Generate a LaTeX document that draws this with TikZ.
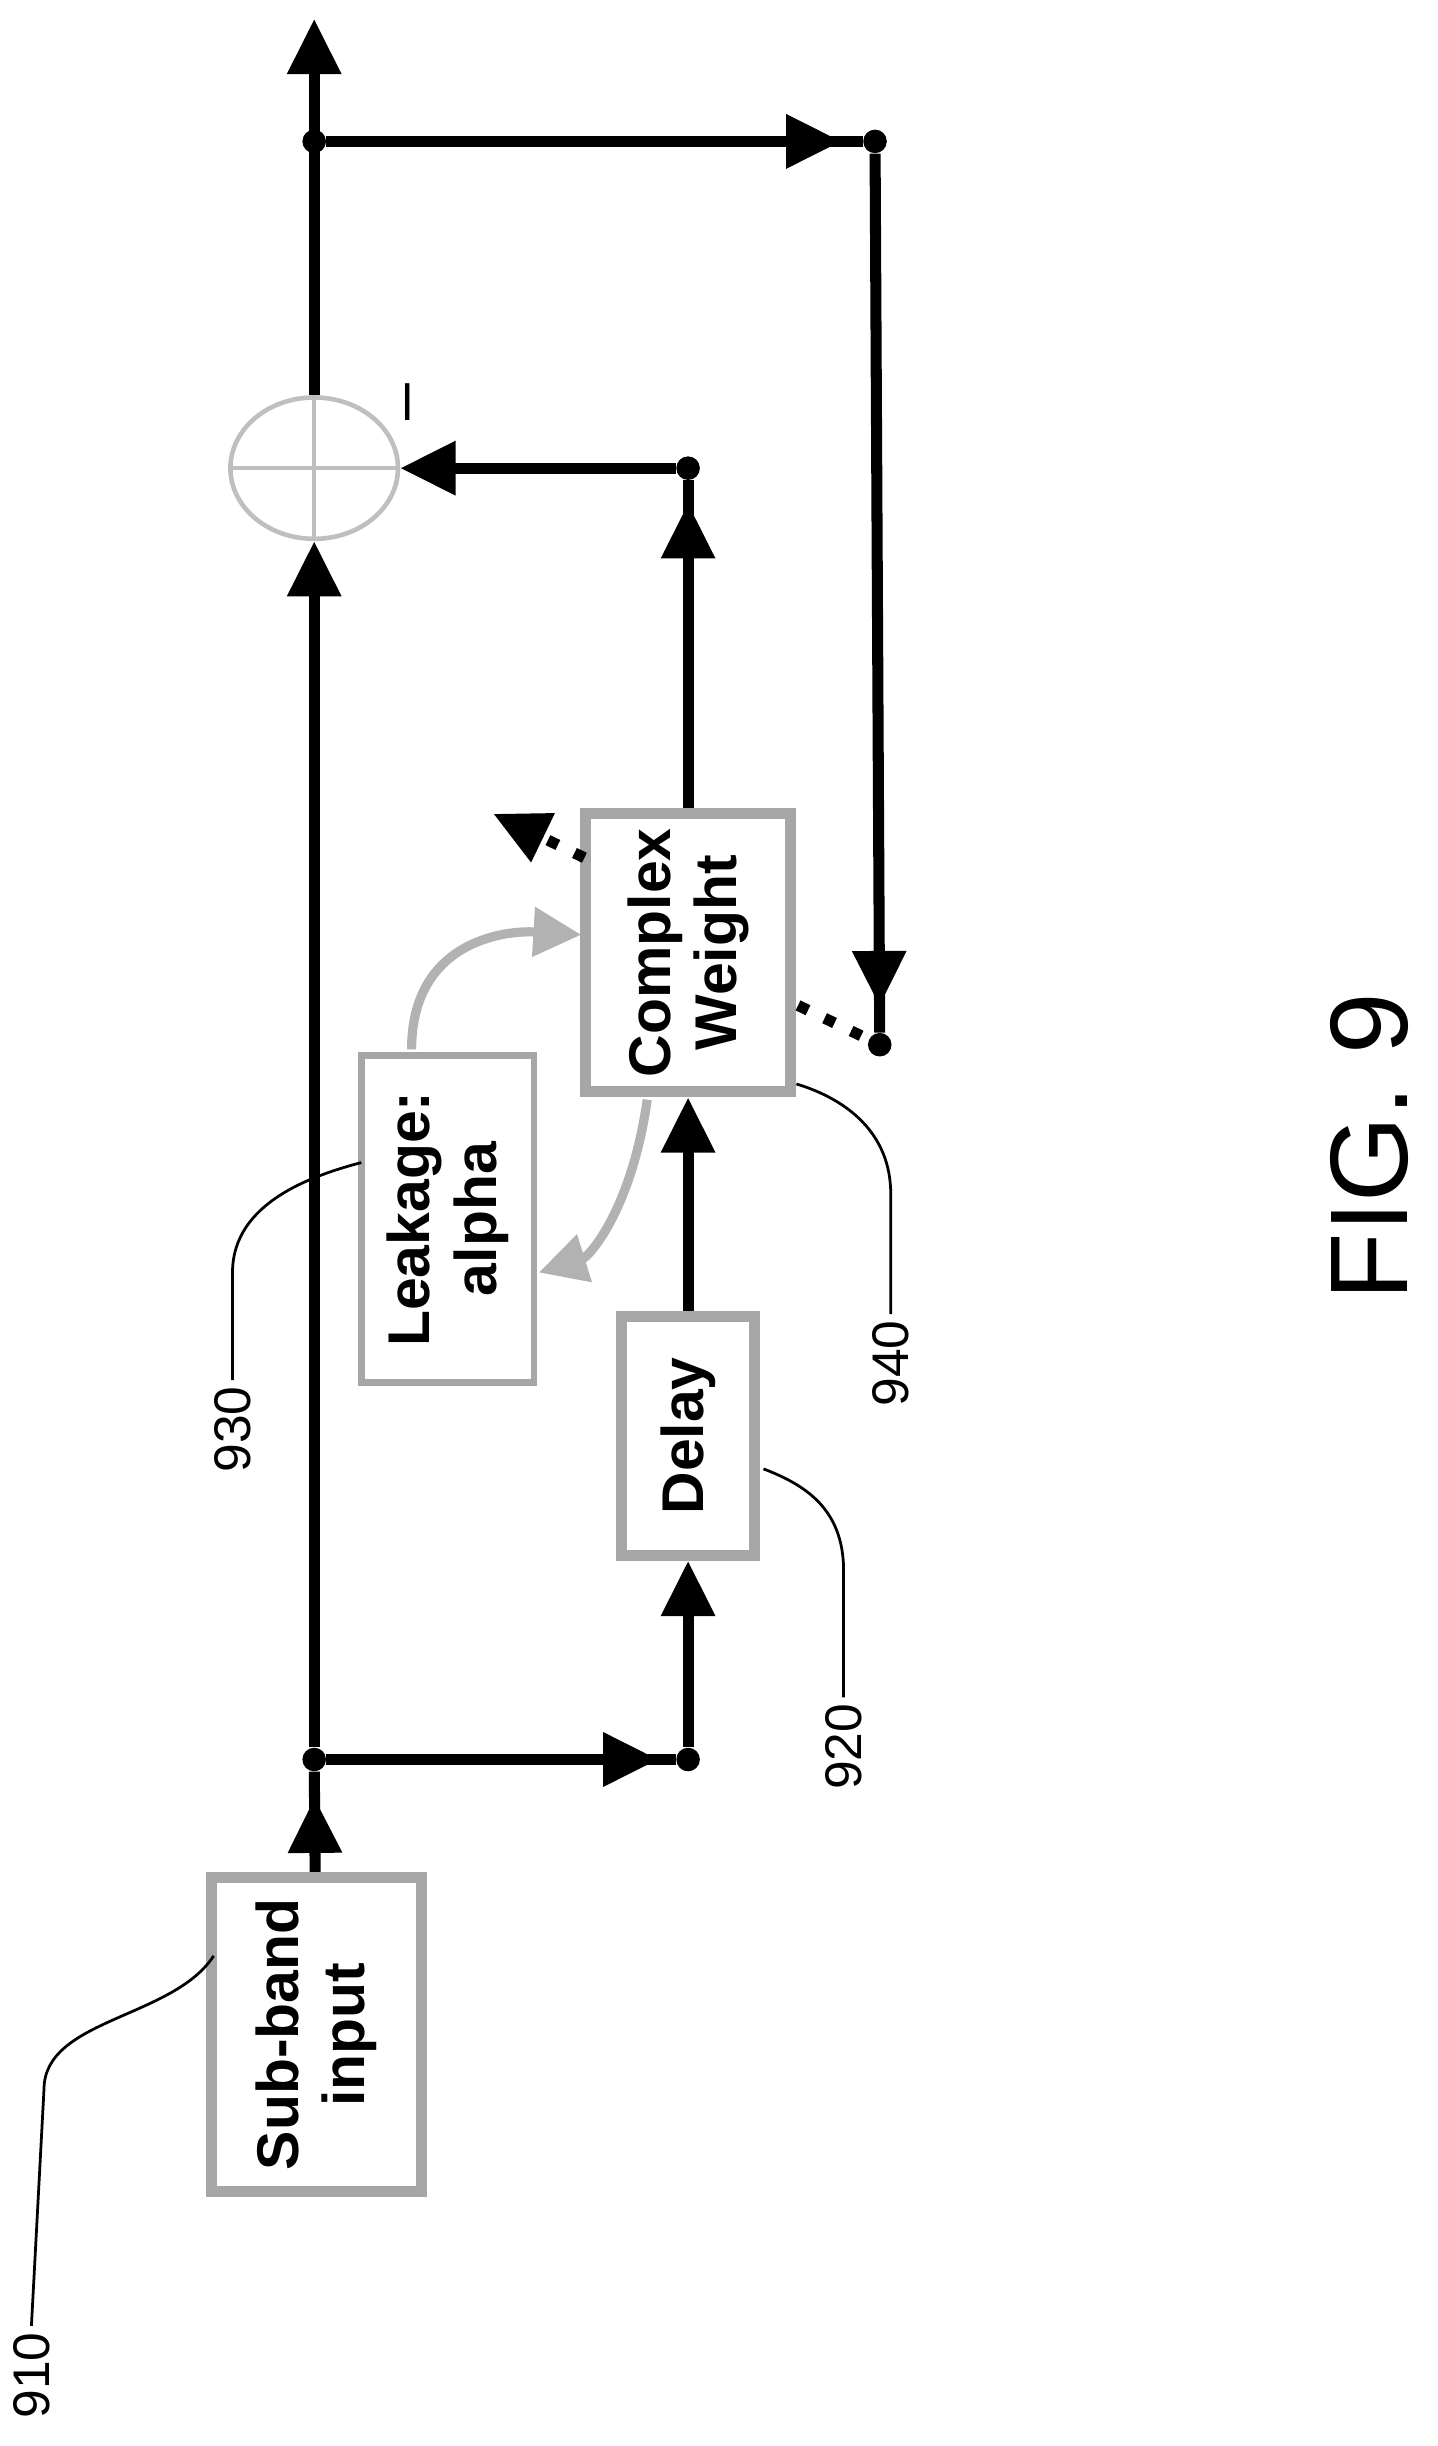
\documentclass[tikz,border=0pt]{standalone}
\usepackage{fontspec}
\setmainfont{Liberation Sans}
\usetikzlibrary{arrows.meta,shapes.geometric,decorations.markings}

\tikzset{
  blk/.style={draw=gray!70,line width=6pt,fill=white,rotate=90,align=center,
    font=\fontsize{32}{36}\selectfont\bfseries,inner sep=2pt},
  wire/.style={line width=6pt},
  tip/.style={-{Triangle[length=30pt,width=28pt]}},
  arr at/.style={postaction={decorate},decoration={markings,
    mark=at position #1 with {\arrow{Triangle[length=30pt,width=28pt]}}}},
  dot/.style={circle,fill=black,inner sep=0pt,minimum size=0.45cm},
  lbl/.style={rotate=90,font=\fontsize{28}{30}\selectfont},
  leader/.style={line width=1.5pt},
  soft/.style={draw=gray!60,line width=5pt,-{Triangle[length=26pt,width=26pt]}}
}

\begin{document}
\begin{tikzpicture}[x=0.03cm,y=-0.03cm]
  \useasboundingbox (0,0) rectangle (915,1557);
  % blocks
  \node[blk,minimum width=6cm,minimum height=4cm] (sub) at (201.5,1295) {Sub-band\\input};
  \node[blk,minimum width=4.56cm,minimum height=2.55cm] (delay) at (438,914) {Delay};
  \node[blk,minimum width=5.31cm,minimum height=3.9cm] (cw) at (438,606.5) {Complex\\Weight};
  \node[blk,line width=3.5pt,minimum width=6.24cm,minimum height=3.3cm] (leak) at (285,776) {Leakage:\\alpha};
  \node[draw=gray!50,line width=2.5pt,ellipse,minimum width=3.2cm,minimum height=2.7cm] (sum) at (200,298) {};
  \draw[gray!50,line width=2.5pt] (sum.north) -- (sum.south) (sum.west) -- (sum.east);
  \node[rotate=90,font=\fontsize{36}{36}\selectfont] (minus) at (264,256) {--};
  % junctions
  \node[dot] (jlow) at (200,1120) {};
  \node[dot] (jd) at (438,1120) {};
  \node[dot] (jc) at (438,298) {};
  \node[dot] (jtop) at (200,90) {};
  \node[dot] (jright) at (557,90) {};
  \node[dot] (jw) at (560,665) {};
  \coordinate (top) at (200,12);
  \coordinate (cwa) at (372,546);
  \coordinate (cwo) at (314,518);
  \coordinate (cwb) at (508,640);
  % signal path
  \draw[wire,arr at=0.74] (sub) -- (jlow);
  \draw[wire,arr at=0.95] (jlow) -- (jd);
  \draw[wire,tip] (jd) -- (delay);
  \draw[wire,tip] (delay) -- (cw);
  \draw[wire,tip] (jlow) -- (sum);
  \draw[wire,arr at=0.93] (cw) -- (jc);
  \draw[wire,tip] (jc) -- (sum);
  \draw[wire,tip] (sum) -- (top);
  \draw[wire,arr at=0.96] (jtop) -- (jright);
  \draw[wire,arr at=0.97] (jright) -- (jw);
  % adaptation
  \draw[wire,dash pattern=on 6pt off 10pt,tip] (cwa) -- (cwo);
  \draw[wire,dash pattern=on 6pt off 10pt] (cwb) -- (jw);
  \draw[soft] (262,668) .. controls (262,600) and (320,592) .. (370,595);
  \draw[soft] (412,700) .. controls (402,770) and (375,800) .. (343,810);
  % reference labels
  \node[lbl] (l910) at (20,1512) {910};
  \draw[leader] (l910.east) -- (28,1330) .. controls (28,1285) and (110,1285) .. (136,1245);
  \node[lbl] (l930) at (148,910) {930};
  \draw[leader] (l930.east) -- (148,810) .. controls (148,765) and (200,748) .. (230,740);
  \node[lbl] (l920) at (537,1112) {920};
  \draw[leader] (l920.east) -- (537,1000) .. controls (537,960) and (512,945) .. (486,935);
  \node[lbl] (l940) at (567,868) {940};
  \draw[leader] (l940.east) -- (567,760) .. controls (567,722) and (540,700) .. (507,690);
  \node[rotate=90,font=\fontsize{60}{60}\selectfont] (fig) at (872,730) {FIG. 9};
\end{tikzpicture}
\end{document}
